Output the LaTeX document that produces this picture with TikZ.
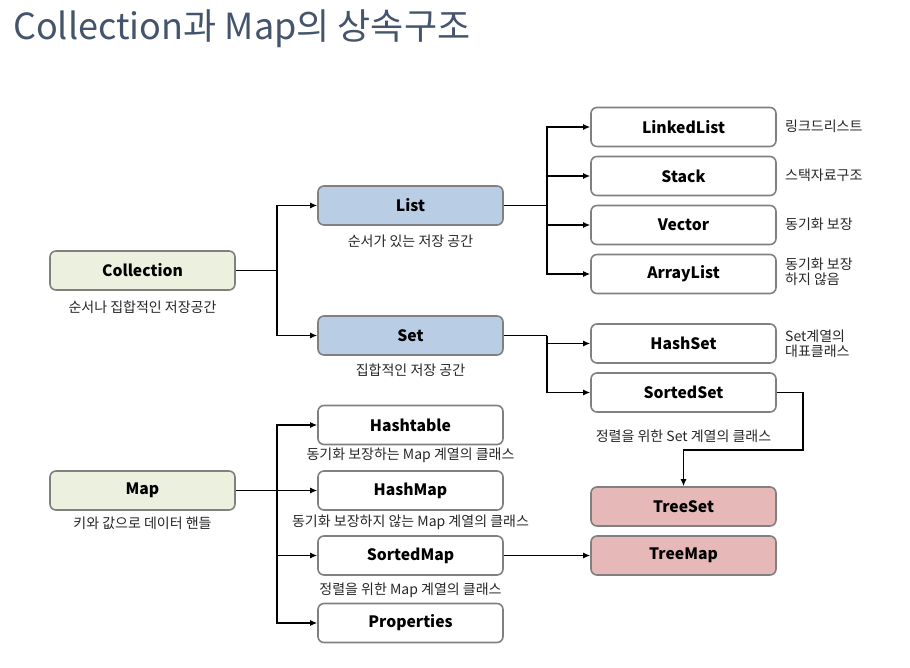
\documentclass[tikz,border=0pt]{standalone}
\usepackage{fontspec}
\setmainfont{Noto Sans CJK KR}
\usetikzlibrary{arrows.meta}
\definecolor{boxgray}{HTML}{808080}
\definecolor{greenfill}{HTML}{EBF1DE}
\definecolor{bluefill}{HTML}{B9CDE5}
\definecolor{redfill}{HTML}{E6B9B8}
\definecolor{titlecol}{HTML}{44546A}
\begin{document}
\begin{tikzpicture}[x=1pt,y=-1pt,
  box/.style={draw=boxgray, line width=1.6pt, rounded corners=6pt, fill=white,
    minimum width=185pt, minimum height=39pt, inner sep=0pt,
    font=\bfseries\fontsize{15.7}{18}\selectfont},
  gbox/.style={box, fill=greenfill},
  bbox/.style={box, fill=bluefill},
  rbox/.style={box, fill=redfill},
  capt/.style={font=\fontsize{14}{15}\selectfont, text=black!85, inner sep=0pt},
  side/.style={capt, anchor=west, align=left, font=\fontsize{14}{15.5}\selectfont},
  conn/.style={line width=1.2pt},
  arr/.style={conn, -{Latex[length=7pt,width=6pt]}}
]
\useasboundingbox (0,0) rectangle (910,668);
\node[anchor=base west, inner sep=0pt, font=\fontsize{36}{40}\selectfont, text=titlecol] (title) at (13,40) {Collection과 Map의 상속구조};

% nodes
\node[gbox] (coll) at (142.5,270.5) {Collection};
\node[capt] (collc) at (142.5,307) {순서나 집합적인 저장공간};
\node[bbox] (list) at (410.5,205.5) {List};
\node[capt] (listc) at (410.5,241) {순서가 있는 저장 공간};
\node[bbox] (set) at (410.5,335.5) {Set};
\node[capt] (setc) at (410.5,370) {집합적인 저장 공간};

\node[box] (ll) at (683.5,127) {LinkedList};
\node[box] (st) at (683.5,176) {Stack};
\node[box] (ve) at (683.5,225) {Vector};
\node[box] (al) at (683.5,274) {ArrayList};
\node[box] (hs) at (683.5,343.5) {HashSet};
\node[box] (ss) at (683.5,392.5) {SortedSet};
\node[capt] (ssc) at (683.5,436) {정렬을 위한 Set 계열의 클래스};
\node[rbox] (ts) at (683.5,506.5) {TreeSet};
\node[rbox] (tm) at (683.5,555.5) {TreeMap};

\node[side] (llc) at (785,126) {링크드리스트};
\node[side] (stc) at (785,175) {스택자료구조};
\node[side] (vec) at (785,224) {동기화 보장};
\node[side] (alc) at (785,272) {동기화 보장\\하지 않음};
\node[side] (hsc) at (785,344) {Set계열의\\대표클래스};

\node[gbox] (map) at (142.5,490.5) {Map};
\node[capt] (mapc) at (142.5,523) {키와 값으로 데이터 핸들};
\node[box] (ht) at (410.5,425) {Hashtable};
\node[capt] (htc) at (410.5,455) {동기화 보장하는 Map 계열의 클래스};
\node[box] (hm) at (410.5,490.5) {HashMap};
\node[capt] (hmc) at (410.5,522) {동기화 보장하지 않는 Map 계열의 클래스};
\node[box] (sm) at (410.5,555.5) {SortedMap};
\node[capt] (smc) at (410.5,590) {정렬을 위한 Map 계열의 클래스};
\node[box] (pr) at (410.5,623) {Properties};

% junctions
\coordinate (j1) at (277,270.5);
\coordinate (j2) at (547,205.5);
\coordinate (j3) at (547,335.5);
\coordinate (j4) at (277,490.5);
\coordinate (k1) at (803,450);
\coordinate (k2) at (683.5,450);

\draw[conn] (coll.east) -- (j1);
\draw[arr] (j1) |- (list.west);
\draw[arr] (j1) |- (set.west);

\draw[conn] (list.east) -- (j2);
\draw[arr] (j2) |- (ll.west);
\draw[arr] (j2) |- (st.west);
\draw[arr] (j2) |- (ve.west);
\draw[arr] (j2) |- (al.west);

\draw[conn] (set.east) -- (j3);
\draw[arr] (j3) |- (hs.west);
\draw[arr] (j3) |- (ss.west);

\draw[arr] (ss.east) -| (k1) -- (k2) -- (ts.north);

\draw[conn] (map.east) -- (j4);
\draw[arr] (j4) |- (ht.west);
\draw[arr] (j4) -- (hm.west);
\draw[arr] (j4) |- (sm.west);
\draw[arr] (j4) |- (pr.west);

\draw[arr] (sm.east) -- (tm.west);
\end{tikzpicture}
\end{document}
